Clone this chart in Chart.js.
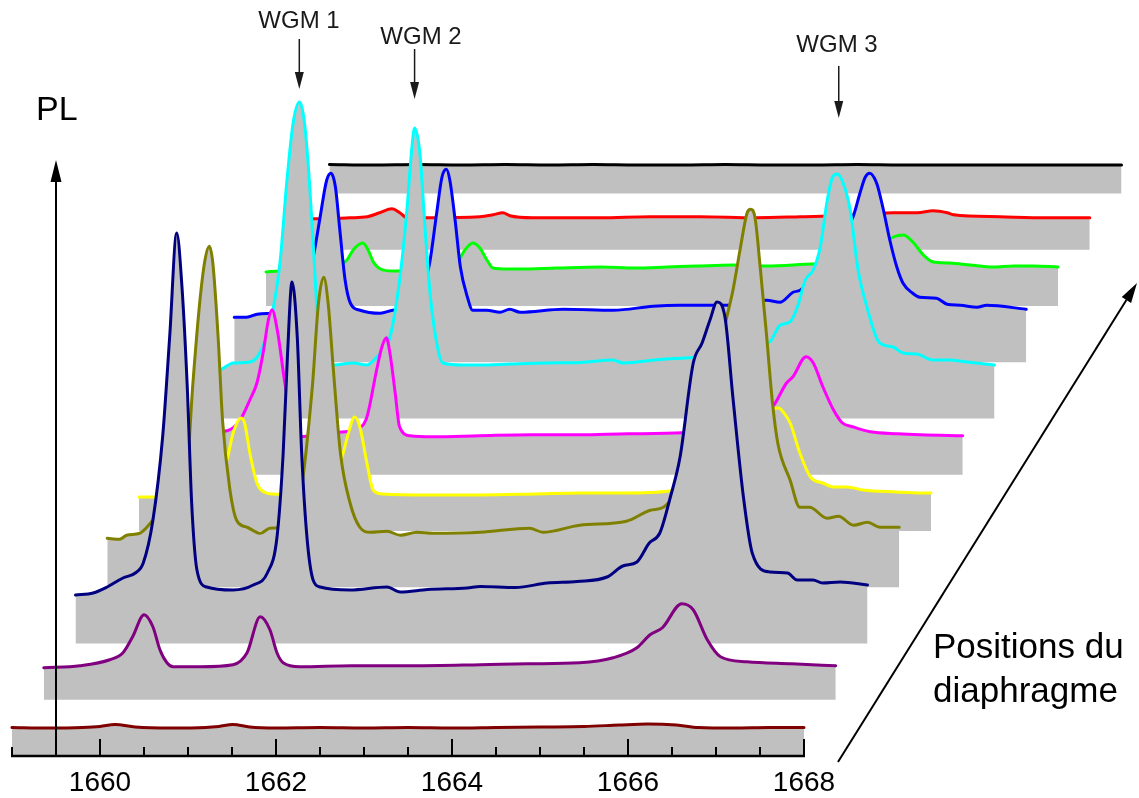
<!DOCTYPE html>
<html><head><meta charset="utf-8">
<script src="https://cdn.jsdelivr.net/npm/chart.js@4.4.1/dist/chart.umd.min.js"></script>
<style>html,body{margin:0;padding:0;background:#fff;}canvas{display:block;}</style>
</head><body>
<canvas id="c" width="1139" height="798" style="width:1139px;height:798px"></canvas>
<script>
// ---- x axis (wavelength, front layer) ----
const majorTicks = [1660, 1662, 1664, 1666, 1668];
const tickLabels = ['1660', '1662', '1664', '1666', '1668'];
const axisStart = 1659, axisEnd = 1668;

// ---- spectra, front (index 0) to back (index 10); wavelength in front-layer nm, PL in a.u. above each layer floor ----
const wl0 = [1659.0,1659.4,1659.8,1660.0,1660.17,1660.4,1660.8,1661.2,1661.35,1661.51,1661.7,1662.0,1662.5,1663.0,1663.5,1664.0,1664.5,1665.0,1665.5,1665.9,1666.22,1666.55,1666.8,1667.2,1667.6,1668.0];
const pl0 = [28.5,28,28.5,29.5,31.5,29,28,28.5,29.5,31.5,29,28,28.5,28,28.5,28,28.5,29,29.5,31,32,31,28.5,28,28.5,28.5];

const wl1 = [1659.0,1659.41,1659.75,1659.90,1660.01,1660.14,1660.24,1660.32,1660.40,1660.47,1660.78,1661.15,1661.31,1661.46,1661.57,1661.65,1661.72,1661.91,1662.5,1663.2,1663.96,1664.5,1665.09,1665.47,1665.74,1665.89,1666.03,1666.25,1666.38,1666.54,1666.69,1666.99,1667.5,1668.0];
const pl1 = [32,34,40,47,63,85,73,50,37,33,33,35,47,83,70,47,37,33,34,34,35,36,37,42,52,65,72,96,90,60,43,38,36,34];

const wl2 = [1659.0,1659.20,1659.36,1659.54,1659.68,1659.77,1659.88,1659.99,1660.07,1660.15,1660.21,1660.27,1660.32,1660.38,1660.49,1660.79,1661.02,1661.18,1661.29,1661.36,1661.41,1661.46,1661.52,1661.57,1661.63,1661.70,1661.78,1662.12,1662.54,1662.69,1663.0,1663.45,1663.6,1664.0,1664.36,1664.7,1665.04,1665.22,1665.38,1665.52,1665.64,1665.76,1665.87,1666.02,1666.12,1666.21,1666.29,1666.38,1666.47,1666.59,1666.69,1666.89,1667.09,1667.20,1667.38,1667.49,1667.69,1668.0];
const pl2 = [48.5,50.5,56.5,65.5,70.5,80.5,123.5,206.5,306.5,410.5,356.5,256.5,140.5,73.5,56.5,53.5,58.5,70.5,106.5,190.5,290.5,361.5,306.5,190.5,106.5,63.5,56.5,53.5,56.5,51.5,54,55.5,57,56,60.5,62,66.5,77.5,81.5,100.5,110.5,146.5,186.5,280.5,300.5,323.5,341.5,326.5,246.5,146.5,90.5,71.5,70.5,63.5,63.5,60.5,61.5,58.5];

const wl3 = [1659.0,1659.14,1659.22,1659.37,1659.45,1659.66,1659.83,1659.91,1659.97,1660.05,1660.11,1660.16,1660.20,1660.26,1660.31,1660.39,1660.47,1660.59,1660.74,1660.85,1661.02,1661.19,1661.33,1661.40,1661.46,1661.51,1661.57,1661.65,1661.76,1661.87,1661.99,1662.18,1662.33,1662.52,1662.70,1663.24,1663.80,1663.95,1664.37,1664.90,1665.17,1665.32,1665.42,1665.74,1665.91,1666.04,1666.11,1666.19,1666.27,1666.31,1666.36,1666.42,1666.49,1666.56,1666.62,1666.76,1666.87,1666.98,1667.18,1667.31,1667.48,1667.64,1667.78,1668.0];
const pl3 = [49,48,52,54,60,85,110,124,200,284,327,341,324,250,167,100,67,60,54,59,60,90,200,284,310,284,217,134,84,60,55,56,52,55,54,55,59,55,62,66,77,80,90,157,217,270,297,337,374,378,370,320,254,184,144,107,80,80,69,71,62,65,60,60];

const wl4 = [1659.0,1659.16,1659.69,1659.86,1660.00,1660.07,1660.16,1660.20,1660.26,1660.34,1660.45,1660.52,1660.83,1661.17,1661.32,1661.38,1661.45,1661.51,1661.59,1661.66,1661.77,1662.3,1662.88,1663.5,1664.01,1664.5,1665.03,1665.60,1665.94,1666.18,1666.27,1666.32,1666.40,1666.51,1666.63,1666.77,1666.89,1667.05,1667.23,1667.61,1667.88,1668.0];
const pl4 = [34,34,34,38,71,98,113,108,78,48,38,37,36,45,78,98,114,104,68,41,37,36,36,37,38,38,40,60,105,122,123,119,108,78,54,48,44,44,41,39,38,38];

const wl5 = [1659.0,1659.18,1659.33,1659.64,1659.79,1659.90,1659.98,1660.05,1660.11,1660.15,1660.21,1660.30,1660.38,1660.47,1660.84,1661.15,1661.23,1661.34,1661.40,1661.45,1661.49,1661.55,1661.60,1661.72,1661.98,1662.51,1663.1,1663.65,1664.2,1664.82,1665.35,1665.70,1665.84,1666.00,1666.07,1666.22,1666.30,1666.41,1666.53,1666.63,1666.75,1666.95,1667.26,1667.52,1668.0];
const pl5 = [42,40,42,44,55,75,92,122,155,165,145,90,55,38,42,47,58,105,128,137,122,82,48,39,38,39,40,40,41,42,50,60,68,92,98,118,112,88,65,52,48,43,41,40,39];

const wl6 = [1659.0,1659.20,1659.35,1659.54,1659.65,1659.77,1659.88,1659.96,1660.03,1660.10,1660.15,1660.20,1660.26,1660.31,1660.37,1660.48,1660.71,1660.87,1660.98,1661.13,1661.24,1661.32,1661.38,1661.41,1661.47,1661.53,1661.59,1661.67,1661.73,1661.96,1662.15,1662.5,1662.91,1663.3,1663.66,1663.78,1664.2,1664.57,1665.0,1665.45,1665.56,1665.68,1665.76,1665.85,1665.94,1666.02,1666.10,1666.16,1666.21,1666.28,1666.36,1666.45,1666.55,1666.67,1666.74,1666.85,1666.96,1667.12,1667.30,1667.49,1667.69,1668.0];
const pl6 = [44,48.5,55.5,56.5,65.5,95.5,155.5,238.5,295.5,316.5,301.5,255.5,171.5,98.5,61.5,53.5,55.5,53.5,61.5,81.5,138.5,205.5,271.5,290.5,265.5,188.5,121.5,71.5,55.5,53.5,53.5,54.5,55.5,56,58.5,55.5,59,61,65,77,93,97,111.5,138.5,148.5,171.5,218.5,241.5,244.5,235.5,208.5,148.5,111.5,78.5,73.5,71.5,65.5,64.5,58.5,58.5,56.5,53.5];

const wl7 = [1659.0,1659.14,1659.26,1659.44,1659.63,1659.78,1659.89,1659.97,1660.05,1660.10,1660.15,1660.20,1660.26,1660.32,1660.43,1660.66,1660.80,1661.00,1661.13,1661.22,1661.30,1661.36,1661.41,1661.45,1661.51,1661.57,1661.65,1661.71,1661.87,1662.02,1662.13,1662.25,1662.74,1663.31,1663.76,1664.06,1664.60,1665.05,1665.20,1665.35,1665.43,1665.66,1665.88,1666.03,1666.11,1666.17,1666.22,1666.30,1666.37,1666.45,1666.53,1666.60,1666.71,1666.79,1666.98,1667.10,1667.25,1667.44,1667.55,1668.0];
const pl7 = [45,45,48,49,52,70,102,142,182,189,175,132,82,59,52,49,52,55,70,99,149,185,193,182,142,95,65,52,52,50,53,50,53,52,56,57,57,62,60,70,72,92,122,145,169,185,189,179,155,122,95,79,69,65,64,58,57,55,57,53];

const wl8 = [1659.0,1659.16,1659.61,1659.92,1659.99,1660.10,1660.16,1660.22,1660.30,1660.44,1660.52,1660.98,1661.17,1661.26,1661.35,1661.43,1661.51,1661.58,1661.74,1661.89,1662.3,1662.80,1663.2,1663.56,1663.9,1664.31,1664.69,1665.22,1665.75,1665.98,1666.13,1666.24,1666.35,1666.47,1666.58,1666.77,1667.0,1667.26,1667.5,1667.72,1668.0];
const pl8 = [34,35,36,46,56,63,56,44,37,35,35,37,43,56,63,58,46,38,37,37,38,39,38,39,40,41,40,42,45,60,69,71,64,51,44,43,41,39,40,40,39];

const wl9 = [1659.0,1659.14,1659.59,1659.79,1659.93,1660.07,1660.16,1660.24,1660.47,1661.07,1661.22,1661.33,1661.41,1661.67,1662.44,1663.0,1663.57,1664.2,1664.71,1665.09,1665.77,1666.04,1666.22,1666.38,1666.45,1666.98,1667.5,1668.0];
const pl9 = [31,31,32,33,37,41,37,32,32,33,35,37,34,32,32,33,33,32,33,34,37,37,39,37,35,33,32,32];

const wl10 = [1659.0,1659.5,1660.0,1660.5,1661.0,1661.5,1662.0,1662.5,1663.0,1663.5,1664.0,1664.5,1665.0,1665.5,1666.0,1666.5,1667.0,1667.5,1668.0];
const pl10 = [29,28.5,29,28.5,29,28.5,29,28.5,28.5,29,28.5,28.5,29,28.5,28.5,28.5,28.5,28.5,28.5];

const layerColors = ['#800000','#800080','#000080','#808000','#FFFF00','#FF00FF','#00FFFF','#0000FF','#00FF00','#FF0000','#000000'];
const wgmWavelengths = [1660.10, 1661.41, 1666.23];   // WGM 1..3 (cyan layer peaks)
const wgmNames = ['WGM 1', 'WGM 2', 'WGM 3'];

// ---- perspective step between successive diaphragm positions ----
const STEP_WL = 0.3608;
const STEP_PL = 56.25;

const series = [[wl0,pl0],[wl1,pl1],[wl2,pl2],[wl3,pl3],[wl4,pl4],[wl5,pl5],[wl6,pl6],[wl7,pl7],[wl8,pl8],[wl9,pl9],[wl10,pl10]];
const FONT = "'Liberation Sans', Arial, Helvetica, sans-serif";

const datasets = series.map(([wl, pl], k) => ({
  data: wl.map((w, i) => ({x: w + k * STEP_WL, y: pl[i] + k * STEP_PL})),
  borderColor: layerColors[k],
  backgroundColor: '#C0C0C0',
  borderWidth: 3,
  pointRadius: 0,
  cubicInterpolationMode: 'monotone',
  borderJoinStyle: 'round',
  borderCapStyle: 'round',
  fill: {value: k * STEP_PL}
}));

function arrow(ctx, x1, y1, x2, y2, hl, hw, lw) {
  const a = Math.atan2(y2 - y1, x2 - x1);
  const bx = x2 - hl * Math.cos(a), by = y2 - hl * Math.sin(a);
  ctx.lineWidth = lw;
  ctx.beginPath(); ctx.moveTo(x1, y1); ctx.lineTo(bx, by); ctx.stroke();
  ctx.beginPath(); ctx.moveTo(x2, y2);
  ctx.lineTo(bx + hw / 2 * Math.sin(a), by - hw / 2 * Math.cos(a));
  ctx.lineTo(bx - hw / 2 * Math.sin(a), by + hw / 2 * Math.cos(a));
  ctx.closePath(); ctx.fill();
}

const decor = {
  id: 'decor',
  afterDraw(chart) {
    const ctx = chart.ctx, xs = chart.scales.x, ys = chart.scales.y;
    const y0 = ys.getPixelForValue(0);
    ctx.save();
    ctx.strokeStyle = '#000'; ctx.fillStyle = '#000'; ctx.lineCap = 'butt';
    // axis line
    ctx.lineWidth = 2.5;
    ctx.beginPath();
    ctx.moveTo(xs.getPixelForValue(axisStart) - 1, y0);
    ctx.lineTo(xs.getPixelForValue(axisEnd) + 1, y0);
    ctx.stroke();
    // inward ticks
    ctx.lineWidth = 2;
    for (let v = axisStart; v <= axisEnd + 1e-9; v += 0.5) {
      const px = Math.round(xs.getPixelForValue(v));
      const len = majorTicks.includes(v) ? 17 : 9;
      ctx.beginPath(); ctx.moveTo(px, y0); ctx.lineTo(px, y0 - len); ctx.stroke();
    }
    // PL axis arrow
    const pxPL = xs.getPixelForValue(1659.5);
    arrow(ctx, pxPL, y0, pxPL, 160, 22, 11, 2);
    ctx.font = '34px ' + FONT; ctx.textAlign = 'left'; ctx.textBaseline = 'alphabetic';
    ctx.fillText('PL', 36, 120);
    // WGM markers
    const wgmText = [[299, 28], [421, 44], [837, 52]];
    const wgmArr = [[39, 89], [49, 99], [66, 118]];
    ctx.font = '24px ' + FONT; ctx.textAlign = 'center'; ctx.fillStyle = '#1a1a1a'; ctx.strokeStyle = '#1a1a1a';
    wgmWavelengths.forEach((w, i) => {
      const px = xs.getPixelForValue(w + 6 * STEP_WL);
      ctx.fillText(wgmNames[i], wgmText[i][0], wgmText[i][1]);
      arrow(ctx, px, wgmArr[i][0], px, wgmArr[i][1], 17, 9, 1.5);
    });
    // diaphragm direction arrow
    ctx.fillStyle = '#000'; ctx.strokeStyle = '#000';
    arrow(ctx, 838, 762, 1137, 283, 20, 11, 2);
    ctx.font = '35px ' + FONT; ctx.textAlign = 'left';
    ctx.fillText('Positions du', 933, 658);
    ctx.fillText('diaphragme', 933, 702);
    ctx.restore();
  }
};

new Chart(document.getElementById('c'), {
  type: 'line',
  data: {datasets},
  options: {
    responsive: false,
    devicePixelRatio: 1,
    animation: false,
    layout: {padding: 0, autoPadding: false},
    plugins: {legend: {display: false}, tooltip: {enabled: false}, filler: {drawTime: 'beforeDatasetDraw'}},
    scales: {
      x: {
        type: 'linear',
        min: 1659 - 12 / 88,
        max: 1659 + 1127 / 88,
        afterBuildTicks: (axis) => { axis.ticks = majorTicks.map(v => ({value: v})); },
        grid: {display: false, drawTicks: true, tickLength: 12},
        border: {display: false},
        ticks: {
          padding: 1, maxRotation: 0, autoSkip: false, color: '#000',
          font: {family: FONT, size: 28, lineHeight: 1},
          callback: (v) => { const i = majorTicks.indexOf(v); return i >= 0 ? tickLabels[i] : ''; }
        }
      },
      y: {type: 'linear', display: false, min: 0, max: 756}
    }
  },
  plugins: [decor]
});
</script>
</body></html>
